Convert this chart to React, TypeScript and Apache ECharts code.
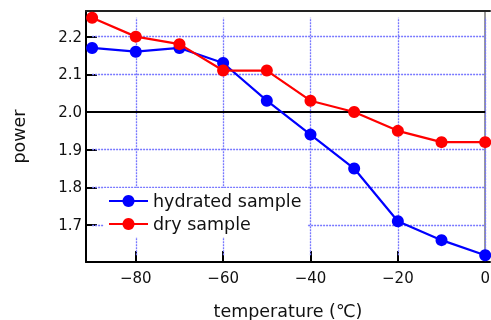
import React, { useEffect, useRef } from "react";
import * as echarts from "echarts";

const temperatures = [-90, -80, -70, -60, -50, -40, -30, -20, -10, 0];
const hydrated = [2.17, 2.16, 2.17, 2.13, 2.03, 1.94, 1.85, 1.71, 1.66, 1.62];
const dry = [2.25, 2.2, 2.18, 2.11, 2.11, 2.03, 2.0, 1.95, 1.92, 1.92];
const xTicks = [-80, -60, -40, -20, 0];
const yTicks = [1.7, 1.8, 1.9, 2.0, 2.1, 2.2];
const gridXRange = [-90, 0];
const gridYRange = [1.62, 2.25];
const refLevel = 2.0;

const FONT = "DejaVu Sans";

export default function App() {
  const ref = useRef<HTMLDivElement>(null);
  useEffect(() => {
    if (!ref.current) return;
    const chart = echarts.init(ref.current, null, { renderer: "svg" });
    const gridStyle = { color: "#7777ff", width: 1.3, type: [2, 1] as any };
    const gridLines: any[] = [];
    xTicks.forEach((x) =>
      gridLines.push([
        { coord: [x, gridYRange[0]], lineStyle: gridStyle },
        { coord: [x, gridYRange[1]] },
      ])
    );
    yTicks.forEach((y) => {
      if (y === refLevel) return;
      gridLines.push([
        { coord: [gridXRange[0], y], lineStyle: gridStyle },
        { coord: [gridXRange[1], y] },
      ]);
    });
    gridLines.push([
      { coord: [gridXRange[0], refLevel], lineStyle: { color: "#000", width: 2, type: "solid" } },
      { coord: [gridXRange[1], refLevel] },
    ]);

    chart.setOption({
      animation: false,
      textStyle: { fontFamily: FONT },
      grid: {
        left: 86,
        right: 1,
        top: 11,
        bottom: 58,
        containLabel: false,
        outerBoundsMode: "none",
      },
      legend: {
        orient: "vertical",
        left: 104,
        top: 188,
        padding: [4, 6, 4, 4],
        itemGap: 5,
        itemWidth: 39,
        itemHeight: 15,
        backgroundColor: "#fff",
        textStyle: { fontSize: 17.5, color: "#111", fontFamily: FONT },
        data: ["hydrated sample", "dry sample"],
        z: 10,
      },
      xAxis: [
        {
          type: "value",
          min: -91.4,
          max: 1.1,
          name: "temperature (℃)",
          nameLocation: "middle",
          nameGap: 40,
          nameTextStyle: { fontSize: 17.5, color: "#111", fontFamily: FONT },
          axisLine: { show: true, onZero: false, lineStyle: { color: "#000", width: 2 } },
          axisTick: { show: true, inside: true, length: 11, customValues: xTicks, lineStyle: { color: "#000", width: 2 } },
          axisLabel: {
            customValues: xTicks,
            margin: 8,
            fontSize: 15,
            color: "#111",
            formatter: (v: number) => (v < 0 ? "\u2212" + Math.abs(v) : String(v)),
          },
          splitLine: { show: false },
        },
        {
          type: "value",
          position: "top",
          min: -91.4,
          max: 1.1,
          axisLine: { show: true, lineStyle: { color: "#222", width: 2 } },
          axisTick: { show: false },
          axisLabel: { show: false },
          splitLine: { show: false },
        },
      ],
      yAxis: [
        {
          type: "value",
          min: 1.602,
          max: 2.268,
          name: "power",
          nameLocation: "middle",
          nameGap: 58,
          nameTextStyle: { fontSize: 17.5, color: "#111", fontFamily: FONT },
          axisLine: { show: true, onZero: false, lineStyle: { color: "#000", width: 2 } },
          axisTick: { show: true, inside: true, length: 11, customValues: yTicks, lineStyle: { color: "#000", width: 2 } },
          axisLabel: {
            customValues: yTicks,
            margin: 4,
            fontSize: 15,
            color: "#111",
            formatter: (v: number) => v.toFixed(1),
          },
          splitLine: { show: false },
        },
        {
          type: "value",
          position: "right",
          min: 1.602,
          max: 2.268,
          axisLine: { show: true, lineStyle: { color: "#999", width: 2 } },
          axisTick: { show: false },
          axisLabel: { show: false },
          splitLine: { show: false },
        },
      ],
      series: [
        {
          name: "hydrated sample",
          type: "line",
          data: temperatures.map((t, i) => [t, hydrated[i]]),
          symbol: "circle",
          symbolSize: 12,
          lineStyle: { color: "#0000ff", width: 2.2 },
          itemStyle: { color: "#0000ff" },
          z: 3,
          markLine: {
            silent: true,
            symbol: ["none", "none"],
            label: { show: false },
            data: gridLines,
            z: 1,
          },
        },
        {
          name: "dry sample",
          type: "line",
          data: temperatures.map((t, i) => [t, dry[i]]),
          symbol: "circle",
          symbolSize: 12,
          lineStyle: { color: "#ff0000", width: 2.2 },
          itemStyle: { color: "#ff0000" },
          z: 4,
        },
      ],
    });
    return () => chart.dispose();
  }, []);
  return (
    <div
      ref={ref}
      style={{ position: "fixed", left: 0, top: 0, width: 491, height: 320 }}
    />
  );
}
